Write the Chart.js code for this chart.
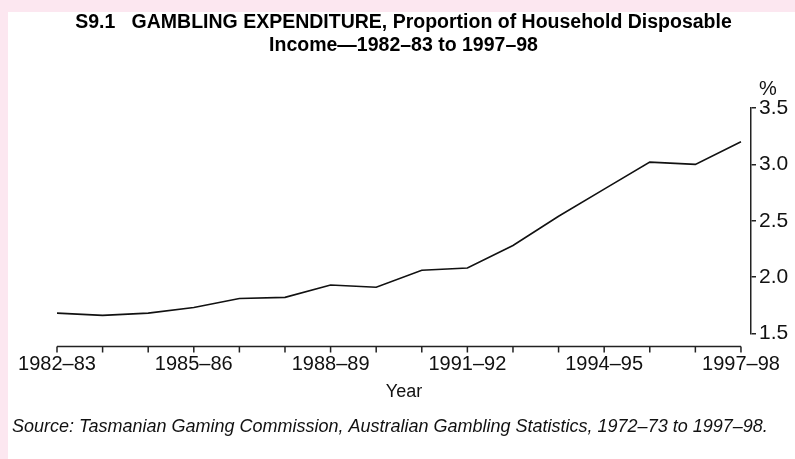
<!DOCTYPE html>
<html>
<head>
<meta charset="utf-8">
<script src="https://cdn.jsdelivr.net/npm/chart.js@4/dist/chart.umd.min.js"></script>
<style>
html,body{margin:0;padding:0;background:#fce7f0;}
#wrap{width:795px;height:459px;}
</style>
</head>
<body>
<div id="wrap"><canvas id="c" width="795" height="459"></canvas></div>
<script>
// ---- data ----
const years = ['1982–83','1983–84','1984–85','1985–86','1986–87','1987–88','1988–89','1989–90',
               '1990–91','1991–92','1992–93','1993–94','1994–95','1995–96','1996–97','1997–98'];
const values = [1.68, 1.66, 1.68, 1.73, 1.81, 1.82, 1.93, 1.91,
                2.06, 2.08, 2.28, 2.54, 2.78, 3.02, 3.00, 3.20];
const yTicks = [1.5, 2.0, 2.5, 3.0, 3.5];
const titleLines = ['S9.1   GAMBLING EXPENDITURE, Proportion of Household Disposable',
                    'Income—1982–83 to 1997–98'];
const xTitle = 'Year';
const yUnit = '%';
const sourceText = 'Source: Tasmanian Gaming Commission, Australian Gambling Statistics, 1972–73 to 1997–98.';

const FONT = "'Liberation Sans', Arial, sans-serif";
const AXIS = '#222';

const bgPlugin = {
  id: 'bg',
  beforeDraw(chart) {
    const ctx = chart.ctx;
    ctx.save();
    ctx.fillStyle = '#fce7f0';
    ctx.fillRect(0, 0, chart.width, chart.height);
    ctx.fillStyle = '#ffffff';
    ctx.fillRect(8, 12, chart.width - 8, chart.height - 12);
    ctx.restore();
  }
};

const axisPlugin = {
  id: 'xaxisline',
  afterDraw(chart) {
    const ctx = chart.ctx;
    const xs = chart.scales.x, ys = chart.scales.y;
    const y0 = chart.chartArea.bottom + 13;
    ctx.save();
    ctx.strokeStyle = AXIS;
    ctx.lineWidth = 1.5;
    ctx.beginPath();
    ctx.moveTo(xs.getPixelForValue(0), y0);
    ctx.lineTo(xs.getPixelForValue(years.length - 1), y0);
    years.forEach((_, i) => {
      const px = xs.getPixelForValue(i);
      ctx.moveTo(px, y0);
      ctx.lineTo(px, y0 + 6);
    });
    ctx.stroke();
    ctx.fillStyle = '#111';
    ctx.font = '20px ' + FONT;
    ctx.textAlign = 'left';
    ctx.textBaseline = 'middle';
    ctx.fillText(yUnit, ys.left + 8, ys.getPixelForValue(yTicks[yTicks.length - 1]) - 19);
    ctx.restore();
  }
};

new Chart(document.getElementById('c'), {
  type: 'line',
  data: {
    datasets: [{
      data: values.map((v, i) => ({ x: i, y: v })),
      borderColor: '#111',
      borderWidth: 1.6,
      pointRadius: 0,
      tension: 0,
      fill: false
    }]
  },
  options: {
    responsive: false,
    animation: false,
    layout: { padding: { left: 12, right: 0, top: 0, bottom: 0 } },
    plugins: {
      legend: { display: false },
      tooltip: { enabled: false },
      title: {
        display: true,
        text: titleLines,
        color: '#000',
        font: { family: FONT, size: 19.5, weight: 'bold', lineHeight: 1.18 },
        padding: { top: 11, bottom: 51 }
      },
      subtitle: {
        display: true,
        position: 'bottom',
        align: 'start',
        text: sourceText,
        color: '#111',
        font: { family: FONT, size: 18, style: 'italic', lineHeight: 1.2 },
        padding: { top: 4, bottom: 21 }
      }
    },
    scales: {
      x: {
        type: 'linear',
        min: 0,
        max: 15.22,
        grid: { display: false, drawTicks: false },
        border: { display: false },
        afterBuildTicks(scale) { scale.ticks = years.map((_, i) => ({ value: i })); },
        afterFit(scale) { scale.height = 79; scale.paddingLeft = 57; scale.paddingRight = 0; },
        ticks: {
          autoSkip: false,
          maxRotation: 0,
          padding: 19,
          color: '#111',
          font: { family: FONT, size: 20 },
          callback: (v) => (v % 3 === 0 ? years[v] : '')
        },
        title: {
          display: true,
          text: xTitle,
          color: '#111',
          font: { family: FONT, size: 18, lineHeight: 1.2 },
          padding: { top: 0, bottom: 10 }
        }
      },
      y: {
        position: 'right',
        min: 1.5,
        max: 3.5,
        afterBuildTicks(scale) { scale.ticks = yTicks.map(v => ({ value: v })); },
        afterFit(scale) { scale.width = 44; },
        grid: { drawOnChartArea: false, drawTicks: true, tickLength: 5, color: AXIS, lineWidth: 1.5 },
        border: { display: true, color: AXIS, width: 1.5 },
        ticks: {
          padding: 3,
          color: '#111',
          font: { family: FONT, size: 21 },
          callback: (v) => Number(v).toFixed(1)
        }
      }
    }
  },
  plugins: [bgPlugin, axisPlugin]
});
</script>
</body>
</html>
